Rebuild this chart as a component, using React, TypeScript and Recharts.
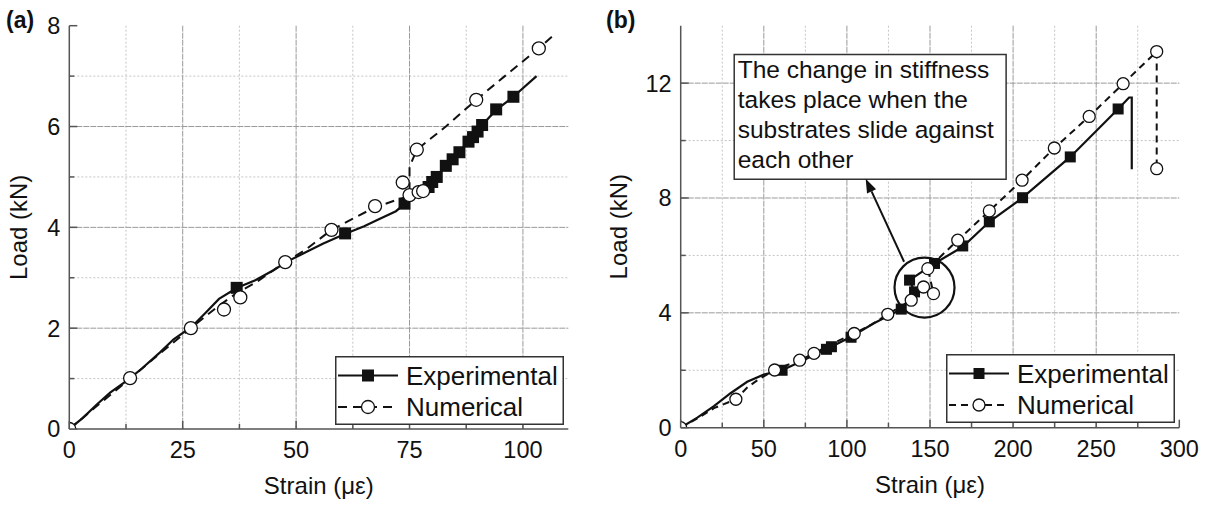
import React from 'react';
import {
  ComposedChart, Line, Scatter, XAxis, YAxis, CartesianGrid,
  ReferenceArea, ReferenceLine, ReferenceDot, Legend,
} from 'recharts';

type Pt = [number, number];

const FONT = '"Liberation Sans", Arial, Helvetica, sans-serif';
const INK = '#111';
const FRAME = '#555';

// ---- panel (a) ----
const expLineA: Pt[] = [
  [0, 0], [3, 0.22], [6, 0.48], [9, 0.72], [13, 0.98], [16, 1.2], [20, 1.52], [23, 1.78],
  [27, 2.03], [30, 2.3], [33, 2.58], [37, 2.8], [41, 2.95], [45, 3.15], [48, 3.32],
  [52, 3.5], [56, 3.68], [61, 3.88], [65, 4.02], [68, 4.15], [72, 4.32], [74, 4.47],
  [76, 4.6], [78, 4.75], [80, 4.9], [83, 5.22], [86, 5.5], [89, 5.8], [91, 6.03],
  [94, 6.32], [98, 6.6], [103, 7.0],
];
const expMarksA: Pt[] = [
  [36.9, 2.8], [60.8, 3.88], [73.9, 4.47], [79.2, 4.8], [80, 4.9], [81, 5.0], [83, 5.22],
  [84.5, 5.35], [86, 5.49], [88, 5.7], [89, 5.79], [90, 5.9], [91, 6.03], [94.1, 6.34], [97.9, 6.59],
];
const numLineA: Pt[] = [
  [0, 0], [6, 0.45], [13.4, 1.0], [20, 1.5], [26.8, 2.0], [33, 2.45], [37, 2.7], [41, 2.9],
  [47.6, 3.31], [52, 3.55], [57.8, 3.95], [62, 4.15], [67, 4.38], [72, 4.54], [75, 4.62],
  [75, 5.2], [76.6, 5.54], [83, 6.0], [89.7, 6.53], [96, 7.0], [103.5, 7.55], [107, 7.83],
];
const numMarksA: Pt[] = [
  [0, 0], [13.4, 1.01], [26.8, 2.0], [34.1, 2.37], [37.7, 2.61], [47.6, 3.31], [57.8, 3.95],
  [67.4, 4.42], [73.5, 4.89], [75, 4.64], [77, 4.7], [78, 4.72], [76.6, 5.54], [89.7, 6.53], [103.5, 7.55],
];
const xTicksA = [0, 12.5, 25, 37.5, 50, 62.5, 75, 87.5, 100];
const xLabelsA = [0, 25, 50, 75, 100];
const xMinorA = [12.5, 37.5, 62.5, 87.5];
const yTicksA = [0, 1, 2, 3, 4, 5, 6, 7, 8];
const yLabelsA = [0, 2, 4, 6, 8];
const yMinorA = [1, 3, 5, 7];

// ---- panel (b) ----
const expLineB: Pt[] = [
  [0, 0], [10, 0.35], [20, 0.75], [30, 1.2], [40, 1.6], [50, 1.85], [61, 2.0], [72, 2.3],
  [86, 2.7], [90, 2.8], [102, 3.15], [116, 3.63], [132.7, 4.13], [140.7, 4.73], [137.7, 5.14],
  [152.7, 5.72], [169.7, 6.3], [185.7, 7.17], [205.7, 8.01], [234.4, 9.43], [263.2, 11.1],
  [269.8, 11.5], [271.4, 11.5], [271.4, 9.0],
];
const expMarksB: Pt[] = [
  [61, 2.0], [87.7, 2.73], [90.7, 2.82], [102.5, 3.15], [132.7, 4.13], [137.7, 5.14], [140.7, 4.73],
  [152.7, 5.72], [169.7, 6.33], [185.7, 7.17], [205.7, 8.01], [234.4, 9.43], [263.2, 11.1],
];
const numLineB: Pt[] = [
  [0, 0], [10, 0.32], [20, 0.68], [33.2, 0.99], [40, 1.4], [46, 1.65], [56.5, 2.01], [71.6, 2.35],
  [80.2, 2.59], [92, 2.95], [104.4, 3.28], [115, 3.6], [124.6, 3.95], [138.7, 4.44], [146.1, 4.9],
  [152.1, 4.67], [148.7, 5.54], [166.7, 6.53], [185.7, 7.55], [205.4, 8.62], [224.8, 9.74],
  [245.8, 10.84], [266.2, 11.98], [286.4, 13.1], [286.4, 9.02],
];
const numMarksB: Pt[] = [
  [0, 0], [33.2, 0.99], [56.5, 2.01], [71.6, 2.35], [80.2, 2.59], [104.4, 3.28], [124.6, 3.95],
  [138.7, 4.44], [146.1, 4.9], [152.1, 4.67], [148.7, 5.54], [166.7, 6.53], [185.7, 7.55],
  [205.4, 8.62], [224.8, 9.74], [245.8, 10.84], [266.2, 11.98], [286.4, 13.1], [286.4, 9.02],
];
const xTicksB = [0, 25, 50, 75, 100, 125, 150, 175, 200, 225, 250, 275, 300];
const xLabelsB = [0, 50, 100, 150, 200, 250, 300];
const xMinorB = [25, 75, 125, 175, 225, 275];
const yTicksB = [0, 2, 4, 6, 8, 10, 12];
const yLabelsB = [0, 4, 8, 12];
const yMinorB = [2, 6, 10];

// annotation in (b)
const noteLines = ['The change in stiffness', 'takes place when the', 'substrates slide against', 'each other'];
const noteBox = { x1: 32.2, x2: 195.8, y1: 8.65, y2: 13.0 };
const slipCentre: Pt = [146.7, 4.88];
const arrowFrom: Pt = [134.4, 5.78];
const arrowTo: Pt = [111.3, 8.67];

const seriesNames = ['Experimental', 'Numerical'];

const rows = (pts: Pt[]) => pts.map(([x, y]) => ({ x, y }));

const square = (size: number) => (p: any) => (
  <rect x={p.cx - size / 2} y={p.cy - size / 2} width={size} height={size} fill={INK} />
);
const ring = (r: number) => (p: any) => (
  <circle cx={p.cx} cy={p.cy} r={r} fill="#fff" stroke={INK} strokeWidth={1.3} />
);

type Side = 'bottom' | 'top' | 'left' | 'right';
const tickFor = (side: Side, labels: number[], withText: boolean) => (p: any) => {
  const { x, y, payload } = p;
  const v = payload.value;
  const major = labels.includes(v);
  const len = major ? 8 : 5;
  let line;
  if (side === 'bottom') line = <line x1={x} x2={x} y1={y} y2={y - len} />;
  else if (side === 'top') line = <line x1={x} x2={x} y1={y} y2={y + len} />;
  else if (side === 'left') line = <line x1={x} x2={x + len} y1={y} y2={y} />;
  else line = <line x1={x} x2={x - len} y1={y} y2={y} />;
  return (
    <g>
      <g stroke={FRAME} strokeWidth={1.5}>{line}</g>
      {withText && major && side === 'bottom' && (
        <text x={x} y={y + 29} textAnchor="middle" fontSize={23.5} fontFamily={FONT} fill={INK}>{v}</text>
      )}
      {withText && major && side === 'left' && (
        <text x={x - 9} y={y} dy="0.36em" textAnchor="end" fontSize={23.5} fontFamily={FONT} fill={INK}>{v}</text>
      )}
    </g>
  );
};

const arrowShape = (p: any) => {
  const { x1, y1, x2, y2 } = p;
  const a = Math.atan2(y2 - y1, x2 - x1);
  const L = 14, W = 5;
  const bx = x2 - L * Math.cos(a), by = y2 - L * Math.sin(a);
  const px = -Math.sin(a) * W, py = Math.cos(a) * W;
  return (
    <g>
      <line x1={x1} y1={y1} x2={bx} y2={by} stroke={INK} strokeWidth={2} />
      <polygon points={`${x2},${y2} ${bx + px},${by + py} ${bx - px},${by - py}`} fill={INK} />
    </g>
  );
};

function LegendBox({ dash, sq, r }: { dash: string; sq: number; r: number }) {
  return (
    <svg width={229} height={69} style={{ display: 'block' }}>
      <rect x={0.75} y={0.75} width={227.5} height={67.5} fill="#fff" stroke="#333" strokeWidth={1.5} />
      <line x1={3} x2={63} y1={19.5} y2={19.5} stroke={INK} strokeWidth={2} />
      <rect x={33 - sq / 2} y={19.5 - sq / 2} width={sq} height={sq} fill={INK} />
      <text x={71} y={19.5} dy="0.36em" fontSize={26} fontFamily={FONT} fill={INK}>{seriesNames[0]}</text>
      <line x1={3} x2={63} y1={51} y2={51} stroke={INK} strokeWidth={2} strokeDasharray={dash} />
      <circle cx={33} cy={51} r={r} fill="#fff" stroke={INK} strokeWidth={1.3} />
      <text x={71} y={51} dy="0.36em" fontSize={26} fontFamily={FONT} fill={INK}>{seriesNames[1]}</text>
    </svg>
  );
}

interface PanelProps {
  width: number;
  margin: { top: number; right: number; bottom: number; left: number };
  xDomain: [number, number]; yDomain: [number, number];
  xTicks: number[]; xLabels: number[]; xMinor: number[];
  yTicks: number[]; yLabels: number[]; yMinor: number[];
  expLine: Pt[]; expMarks: Pt[]; numLine: Pt[]; numMarks: Pt[];
  dash: string; sq: number; r: number;
  legendPos: { left: number; top: number };
  note?: boolean;
}

function Panel(p: PanelProps) {
  const xMajor = p.xLabels.filter((v) => v > p.xDomain[0] && v < p.xDomain[1]);
  const yMajor = p.yLabels.filter((v) => v > p.yDomain[0] && v < p.yDomain[1]);
  const axisLine = { stroke: FRAME, strokeWidth: 1.5 };
  return (
    <ComposedChart width={p.width} height={507} margin={p.margin}>
      <CartesianGrid vertical horizontal verticalValues={p.xMinor} horizontalValues={p.yMinor}
        stroke="#c4c4c4" strokeDasharray="2 2" />
      <CartesianGrid vertical horizontal verticalValues={xMajor} horizontalValues={yMajor}
        stroke="#9a9a9a" strokeDasharray="6 1" />
      <XAxis type="number" dataKey="x" domain={p.xDomain} ticks={p.xTicks} interval={0}
        allowDataOverflow tickSize={0} tickMargin={0} height={40} axisLine={axisLine}
        tickLine={false} tick={tickFor('bottom', p.xLabels, true)}
        label={{
          content: (lp: any) => (
            <text x={lp.viewBox.x + lp.viewBox.width / 2} y={lp.viewBox.y + 65} textAnchor="middle"
              fontSize={24} fontFamily={FONT} fill={INK}>Strain (με)</text>
          ),
        }} />
      <XAxis xAxisId="top" orientation="top" type="number" domain={p.xDomain} ticks={p.xTicks}
        interval={0} allowDataOverflow tickSize={0} tickMargin={0} height={0} axisLine={axisLine}
        tickLine={false} tick={tickFor('top', p.xLabels, false)} />
      <YAxis type="number" dataKey="y" domain={p.yDomain} ticks={p.yTicks} interval={0}
        allowDataOverflow tickSize={0} tickMargin={0} width={60} axisLine={axisLine}
        tickLine={false} tick={tickFor('left', p.yLabels, true)}
        label={{
          content: (lp: any) => {
            const cx = lp.viewBox.x - p.margin.left + 27;
            const cy = lp.viewBox.y + lp.viewBox.height / 2;
            return (
              <text x={cx} y={cy} transform={`rotate(-90 ${cx} ${cy})`} textAnchor="middle"
                fontSize={24} fontFamily={FONT} fill={INK}>Load (kN)</text>
            );
          },
        }} />
      <YAxis yAxisId="right" orientation="right" type="number" domain={p.yDomain} ticks={p.yTicks}
        interval={0} allowDataOverflow tickSize={0} tickMargin={0} width={0} axisLine={axisLine}
        tickLine={false} tick={tickFor('right', p.yLabels, false)} />

      {p.note && (
        <ReferenceArea x1={noteBox.x1} x2={noteBox.x2} y1={noteBox.y1} y2={noteBox.y2}
          fill="#fff" fillOpacity={1} stroke="#333" strokeWidth={1.5}
          label={{
            content: (lp: any) => (
              <text fontSize={24.5} fontFamily={FONT} fill={INK}>
                {noteLines.map((t, i) => (
                  <tspan key={i} x={lp.viewBox.x + 3.5} y={lp.viewBox.y + 24 + i * 30}>{t}</tspan>
                ))}
              </text>
            ),
          }} />
      )}

      <Line data={rows(p.numLine)} dataKey="y" type="linear" dot={false} activeDot={false}
        stroke={INK} strokeWidth={2} strokeDasharray={p.dash} isAnimationActive={false} />
      <Line data={rows(p.expLine)} dataKey="y" type="linear" dot={false} activeDot={false}
        stroke={INK} strokeWidth={2.2} isAnimationActive={false} />
      <Scatter data={rows(p.expMarks)} shape={square(p.sq)} isAnimationActive={false} />
      <Scatter data={rows(p.numMarks)} shape={ring(p.r)} isAnimationActive={false} />

      {p.note && (
        <ReferenceDot x={slipCentre[0]} y={slipCentre[1]} r={30} fill="none" stroke={INK} strokeWidth={2.2} />
      )}
      {p.note && (
        <ReferenceLine segment={[{ x: arrowFrom[0], y: arrowFrom[1] }, { x: arrowTo[0], y: arrowTo[1] }]}
          shape={arrowShape} />
      )}

      <Legend layout="vertical" align="center" verticalAlign="middle"
        wrapperStyle={{ left: p.legendPos.left, top: p.legendPos.top, width: 229, height: 69 }}
        content={() => <LegendBox dash={p.dash} sq={p.sq} r={p.r} />} />
    </ComposedChart>
  );
}

const tag: React.CSSProperties = {
  position: 'absolute', top: 9, fontSize: 23, fontWeight: 'bold', lineHeight: '23px',
  fontFamily: FONT, color: INK,
};

export default function App() {
  return (
    <div style={{ position: 'absolute', left: 0, top: 0, width: 1211, height: 507, background: '#fff' }}>
      <div style={{ position: 'absolute', left: 0, top: 0 }}>
        <Panel width={600} margin={{ top: 25.7, right: 31.7, bottom: 38, left: 9.3 }}
          xDomain={[0, 110]} yDomain={[0, 8]}
          xTicks={xTicksA} xLabels={xLabelsA} xMinor={xMinorA}
          yTicks={yTicksA} yLabels={yLabelsA} yMinor={yMinorA}
          expLine={expLineA} expMarks={expMarksA} numLine={numLineA} numMarks={numMarksA}
          dash="9 6" sq={12} r={6.5} legendPos={{ left: 335, top: 355.5 }} />
      </div>
      <div style={{ position: 'absolute', left: 600, top: 0 }}>
        <Panel width={611} margin={{ top: 25.7, right: 31.7, bottom: 39.3, left: 20.7 }}
          xDomain={[0, 300]} yDomain={[0, 14]}
          xTicks={xTicksB} xLabels={xLabelsB} xMinor={xMinorB}
          yTicks={yTicksB} yLabels={yLabelsB} yMinor={yMinorB}
          expLine={expLineB} expMarks={expMarksB} numLine={numLineB} numMarks={numMarksB}
          dash="7 5" sq={11} r={6} legendPos={{ left: 346, top: 354 }} note />
      </div>
      <div style={{ ...tag, left: 6 }}>(a)</div>
      <div style={{ ...tag, left: 606 }}>(b)</div>
    </div>
  );
}
